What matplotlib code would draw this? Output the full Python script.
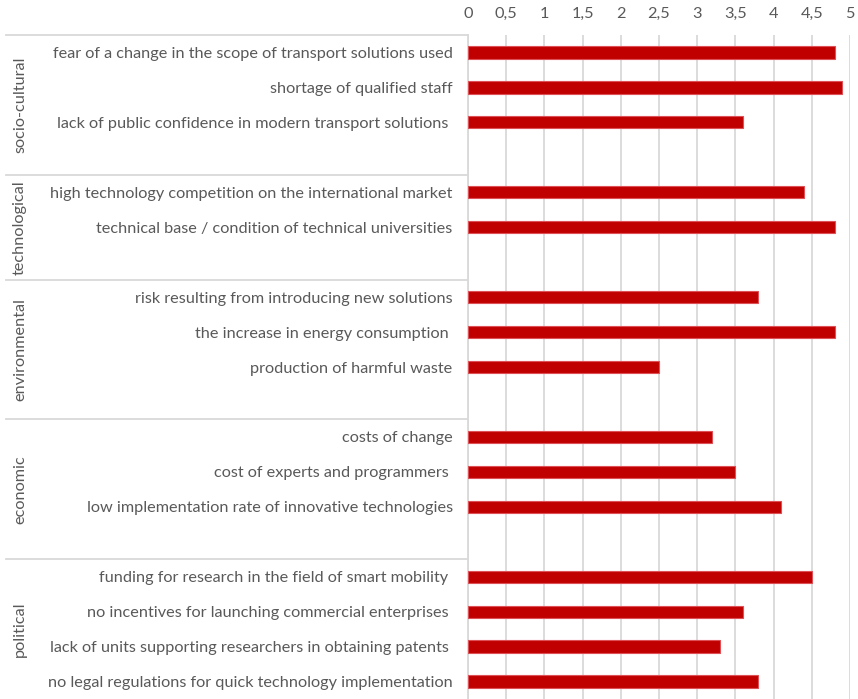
import matplotlib.pyplot as plt
from matplotlib.ticker import FuncFormatter, MultipleLocator

plt.rcParams["font.family"] = ["Lato", "DejaVu Sans"]

# groups, item labels and scores
groups = ["socio-cultural", "technological", "environmental", "economic", "political"]
socio_labels = [
    "fear of a change in the scope of transport solutions used",
    "shortage of qualified staff",
    "lack of public confidence in modern transport solutions ",
]
socio_values = [4.8, 4.9, 3.6]
tech_labels = [
    "high technology competition on the international market",
    "technical base / condition of technical universities",
]
tech_values = [4.4, 4.8]
env_labels = [
    "risk resulting from introducing new solutions",
    "the increase in energy consumption ",
    "production of harmful waste",
]
env_values = [3.8, 4.8, 2.5]
econ_labels = [
    "costs of change",
    "cost of experts and programmers ",
    "low implementation rate of innovative technologies",
]
econ_values = [3.2, 3.5, 4.1]
pol_labels = [
    "funding for research in the field of smart mobility ",
    "no incentives for launching commercial enterprises ",
    "lack of units supporting researchers in obtaining patents ",
    "no legal regulations for quick technology implementation",
]
pol_values = [4.5, 3.6, 3.3, 3.8]

group_items = [
    (socio_labels, socio_values),
    (tech_labels, tech_values),
    (env_labels, env_values),
    (econ_labels, econ_values),
    (pol_labels, pol_values),
]

GRID = "#d9d9d9"
TEXT = "#595959"
BAR = "#c00000"
FS = 11.7

# every group except the last one ends with an empty slot, like the Excel source
labels, bar_pos, bar_vals, spans = [], [], [], []
for i, (lab, val) in enumerate(group_items):
    start = len(labels)
    bar_pos += range(start, start + len(lab))
    bar_vals += val
    labels += lab
    if i < len(group_items) - 1:
        labels.append("")
    spans.append((start, len(labels)))

fig = plt.figure(figsize=(8.58, 6.99), dpi=100)
ax = fig.add_axes([468 / 858, 0.0, 382 / 858, 1 - 35 / 699])

ax.barh(bar_pos, bar_vals, height=0.35, color=BAR, edgecolor="#dd5055", linewidth=0.8, zorder=3)

ax.set_xlim(0, 5)
ax.set_ylim(len(labels) - 0.5, -0.5)
ax.xaxis.set_major_locator(MultipleLocator(0.5))
ax.xaxis.set_major_formatter(FuncFormatter(lambda v, _: f"{v:g}".replace(".", ",")))
ax.xaxis.tick_top()
ax.tick_params(axis="x", length=0, pad=10, labelsize=FS, labelcolor=TEXT)
ax.set_yticks(range(len(labels)))
ax.set_yticklabels(labels)
ax.tick_params(axis="y", length=0, pad=11, labelsize=FS, labelcolor=TEXT)
ax.grid(axis="x", color=GRID, linewidth=1.3, zorder=0)

for side in ["top", "right", "bottom"]:
    ax.spines[side].set_visible(False)
ax.spines["left"].set_color(GRID)
ax.spines["left"].set_linewidth(1.3)

# separator lines and rotated group names to the left of the labels
x_left = (6 - 468) / 382
for name, (start, end) in zip(groups, spans):
    ax.plot([x_left, 0], [start - 0.5, start - 0.5], color=GRID, lw=1.3,
            transform=ax.get_yaxis_transform(), clip_on=False)
    ax.text((20 - 468) / 382, (start + end - 1) / 2, name, rotation=90,
            ha="center", va="center", fontsize=FS, color=TEXT,
            transform=ax.get_yaxis_transform())

fig.savefig("out.png", dpi=100)
